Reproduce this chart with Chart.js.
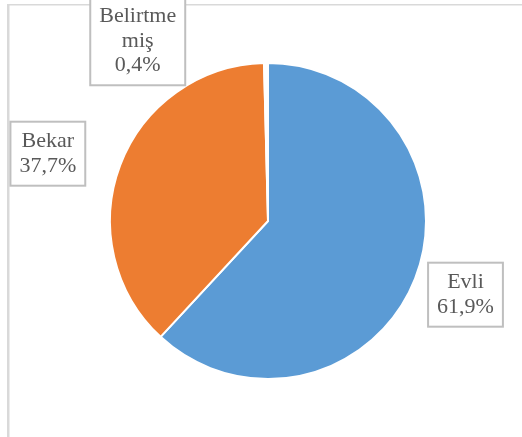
<!DOCTYPE html>
<html>
<head>
<meta charset="utf-8">
<script src="https://cdn.jsdelivr.net/npm/chart.js@4"></script>
<style>
  html, body { margin: 0; padding: 0; background: #ffffff; }
  #chart { display: block; }
</style>
</head>
<body>
<canvas id="chart" width="522" height="437"></canvas>
<script>
// data (percent)
const categories = ['Evli', 'Bekar', 'Belirtmemiş'];
const shares = [61.9, 37.7, 0.4];
const sliceColors = ['#5b9bd5', '#ed7d31', '#ffffff'];

// label placement: distance beyond the rim and a small nudge
const labelGap = [52, 72, 22];
const labelNudge = [[2, -3], [-5, 14], [-128, 0]];

function wrapChars(ctx, text, maxWidth) {
    const lines = [];
    let cur = '';
    for (const ch of text) {
        if (cur && ctx.measureText(cur + ch).width > maxWidth) {
            lines.push(cur);
            cur = ch;
        } else {
            cur += ch;
        }
    }
    if (cur) lines.push(cur);
    return lines;
}

const frame = {
    id: 'frame',
    beforeDraw(chart) {
        const ctx = chart.ctx;
        ctx.save();
        ctx.fillStyle = '#d9d9d9';
        ctx.fillRect(7, 4, chart.width - 7, 1.5);
        ctx.fillRect(7, 4, 2.5, chart.height - 4);
        ctx.restore();
    }
};

const boxLabels = {
    id: 'boxLabels',
    afterDatasetsDraw(chart) {
        const ctx = chart.ctx;
        const meta = chart.getDatasetMeta(0);
        ctx.save();
        ctx.font = '22px "Liberation Serif", "Times New Roman", serif';
        ctx.textAlign = 'center';
        ctx.textBaseline = 'middle';
        meta.data.forEach((arc, i) => {
            const mid = (arc.startAngle + arc.endAngle) / 2;
            const r = arc.outerRadius + labelGap[i];
            const cx = arc.x + Math.cos(mid) * r + labelNudge[i][0];
            const cy = arc.y + Math.sin(mid) * r + labelNudge[i][1];
            const pct = shares[i].toFixed(1).replace('.', ',') + '%';
            const lines = wrapChars(ctx, categories[i], 80).concat([pct]);
            const lineH = 24.5;
            let w = 0;
            lines.forEach(l => { w = Math.max(w, ctx.measureText(l).width); });
            const bw = w + 18;
            const bh = lines.length * lineH + 15;
            const bx = cx - bw / 2;
            const by = cy - bh / 2;
            ctx.fillStyle = '#ffffff';
            ctx.fillRect(bx, by, bw, bh);
            ctx.strokeStyle = '#bfbfbf';
            ctx.lineWidth = 2;
            ctx.strokeRect(bx, by, bw, bh);
            ctx.fillStyle = '#595959';
            lines.forEach((l, k) => {
                ctx.fillText(l, cx, cy - (lines.length - 1) * lineH / 2 + k * lineH);
            });
        });
        ctx.restore();
    }
};

new Chart(document.getElementById('chart'), {
    type: 'pie',
    data: {
        labels: categories,
        datasets: [{
            data: shares,
            backgroundColor: sliceColors,
            borderColor: '#ffffff',
            borderWidth: 2
        }]
    },
    options: {
        responsive: false,
        animation: false,
        layout: {
            padding: { left: 109, right: 95, top: 62, bottom: 57 }
        },
        plugins: {
            legend: { display: false },
            tooltip: { enabled: false }
        }
    },
    plugins: [frame, boxLabels]
});
</script>
</body>
</html>
